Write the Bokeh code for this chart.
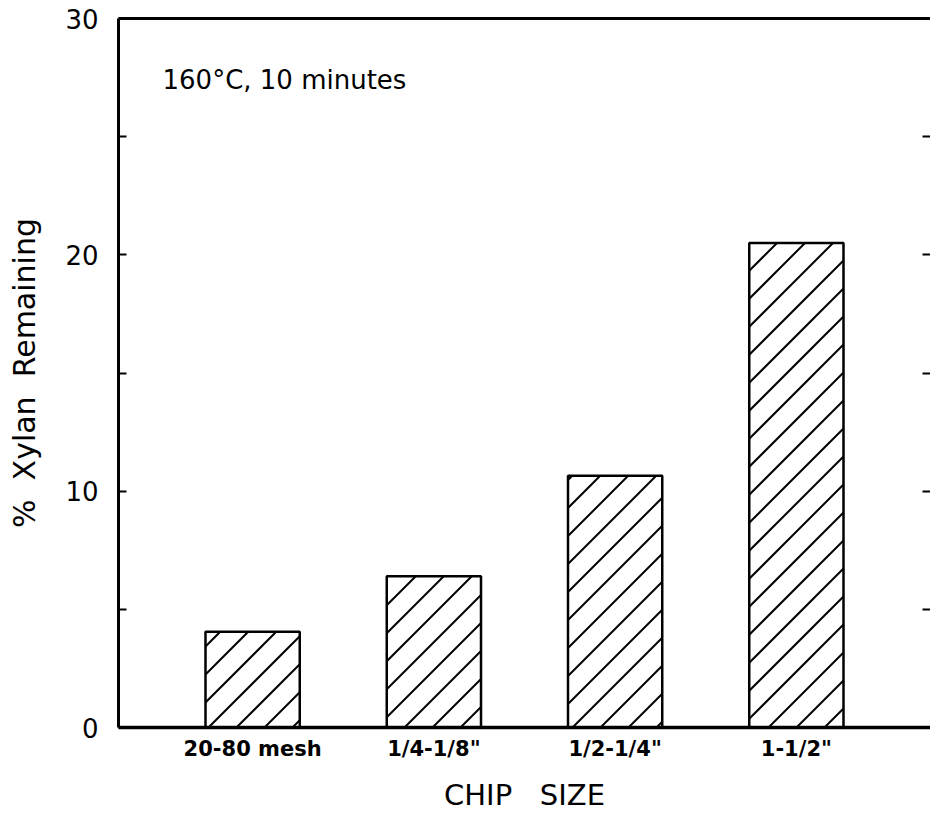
import math
from bokeh.plotting import figure
from bokeh.models import (ColumnDataSource, FactorRange, Range1d, FixedTicker,
                          LinearAxis, Label)
from bokeh.embed import file_html
from bokeh.resources import INLINE

categories = ["20-80 mesh", "1/4-1/8\"", "1/2-1/4\"", "1-1/2\""]
xylan_remaining = [4.05, 6.4, 10.65, 20.5]
y_major_ticks = [0, 10, 20, 30]
y_minor_ticks = [5, 15, 25]
right_ticks = [5, 10, 15, 20, 25]

FONT = "DejaVu Sans"
NB = "\u00a0"

# layout (pixels)
FIG_W, FIG_H = 930, 814
B_LEFT, B_TOP, B_BOTTOM, B_RIGHT = 118, 18, 87, 0
PAD = 0.24
BAR_W = 0.52
Y_MAX = 30
HATCH_SPACING = 28  # horizontal px between hatch lines

src = ColumnDataSource(dict(cat=categories, val=xylan_remaining))

p = figure(width=FIG_W, height=FIG_H, output_backend="svg", toolbar_location=None,
           x_range=FactorRange(factors=categories, range_padding=PAD,
                               range_padding_units="absolute"),
           y_range=Range1d(0, Y_MAX))
p.min_border_left = B_LEFT
p.min_border_top = B_TOP
p.min_border_bottom = B_BOTTOM
p.min_border_right = B_RIGHT
p.outline_line_color = None
p.background_fill_color = "white"
p.border_fill_color = "white"
p.xgrid.grid_line_color = None
p.ygrid.grid_line_color = None

p.vbar(x="cat", top="val", width=BAR_W, source=src,
       fill_color="white", line_color=None)

# 45-degree hatch lines (screen space), clipped to each bar
frame_w = FIG_W - B_LEFT - B_RIGHT
frame_h = FIG_H - B_TOP - B_BOTTOM
x_start = -PAD
x_end = len(categories) + PAD
sx = frame_w / (x_end - x_start)
sy = frame_h / Y_MAX
hx0, hy0, hx1, hy1 = [], [], [], []
for i, val in enumerate(xylan_remaining):
    cx = i + 0.5
    L = (cx - BAR_W / 2 - x_start) * sx
    R = (cx + BAR_W / 2 - x_start) * sx
    T = val * sy
    k0 = math.floor((L - T) / HATCH_SPACING)
    k1 = math.ceil(R / HATCH_SPACING)
    for k in range(k0, k1 + 1):
        c = k * HATCH_SPACING + 6
        v0 = max(0.0, L - c)
        v1 = min(T, R - c)
        if v1 - v0 > 1.0:
            hx0.append((v0 + c) / sx + x_start)
            hy0.append(v0 / sy)
            hx1.append((v1 + c) / sx + x_start)
            hy1.append(v1 / sy)
p.segment(x0=hx0, y0=hy0, x1=hx1, y1=hy1, line_color="black", line_width=2)

p.vbar(x="cat", top="val", width=BAR_W, source=src,
       fill_color=None, line_color="black", line_width=2.5)

# y axis (left)
ya = p.yaxis[0]
ya.ticker = FixedTicker(ticks=y_major_ticks, minor_ticks=y_minor_ticks)
ya.axis_line_width = 3
ya.major_tick_in = 8
ya.major_tick_out = 0
ya.minor_tick_in = 8
ya.minor_tick_out = 0
ya.major_tick_line_width = 2
ya.minor_tick_line_width = 2
ya.major_label_standoff = 20
ya.major_label_text_font = FONT
ya.major_label_text_font_size = "26px"
ya.major_label_text_color = "black"
ya.axis_label = "%" + NB * 2 + "Xylan" + NB * 2 + "Remaining"
ya.axis_label_text_font = FONT
ya.axis_label_text_font_size = "30px"
ya.axis_label_text_font_style = "normal"
ya.axis_label_standoff = 20
ya.axis_label_text_color = "black"

# x axis (bottom)
xa = p.xaxis[0]
xa.axis_line_width = 3.5
xa.major_tick_in = 0
xa.major_tick_out = 0
xa.minor_tick_line_color = None
xa.major_label_standoff = 9
xa.major_label_text_font = FONT
xa.major_label_text_font_size = "21px"
xa.major_label_text_font_style = "bold"
xa.major_label_text_color = "black"
xa.axis_label = "CHIP" + NB * 3 + "SIZE"
xa.axis_label_text_font = FONT
xa.axis_label_text_font_size = "29px"
xa.axis_label_text_font_style = "normal"
xa.axis_label_standoff = 14
xa.axis_label_text_color = "black"

# top border line
top = LinearAxis(ticker=FixedTicker(ticks=[]), axis_line_width=3,
                 major_tick_in=0, major_tick_out=0, major_label_standoff=0)
p.add_layout(top, "above")

# right axis: inward ticks only (no labels)
right = LinearAxis(ticker=FixedTicker(ticks=[], minor_ticks=right_ticks),
                   axis_line_color=None, major_tick_in=0, major_tick_out=0,
                   minor_tick_in=8, minor_tick_out=0,
                   minor_tick_line_width=2, major_label_standoff=0)
p.add_layout(right, "right")

note = Label(x=44, y=663, x_units="screen", y_units="screen",
             text="160°C, 10 minutes", text_font=FONT, text_font_size="26px",
             text_baseline="top", text_color="black")
p.add_layout(note)

open("out.html", "w").write(file_html(p, INLINE))
